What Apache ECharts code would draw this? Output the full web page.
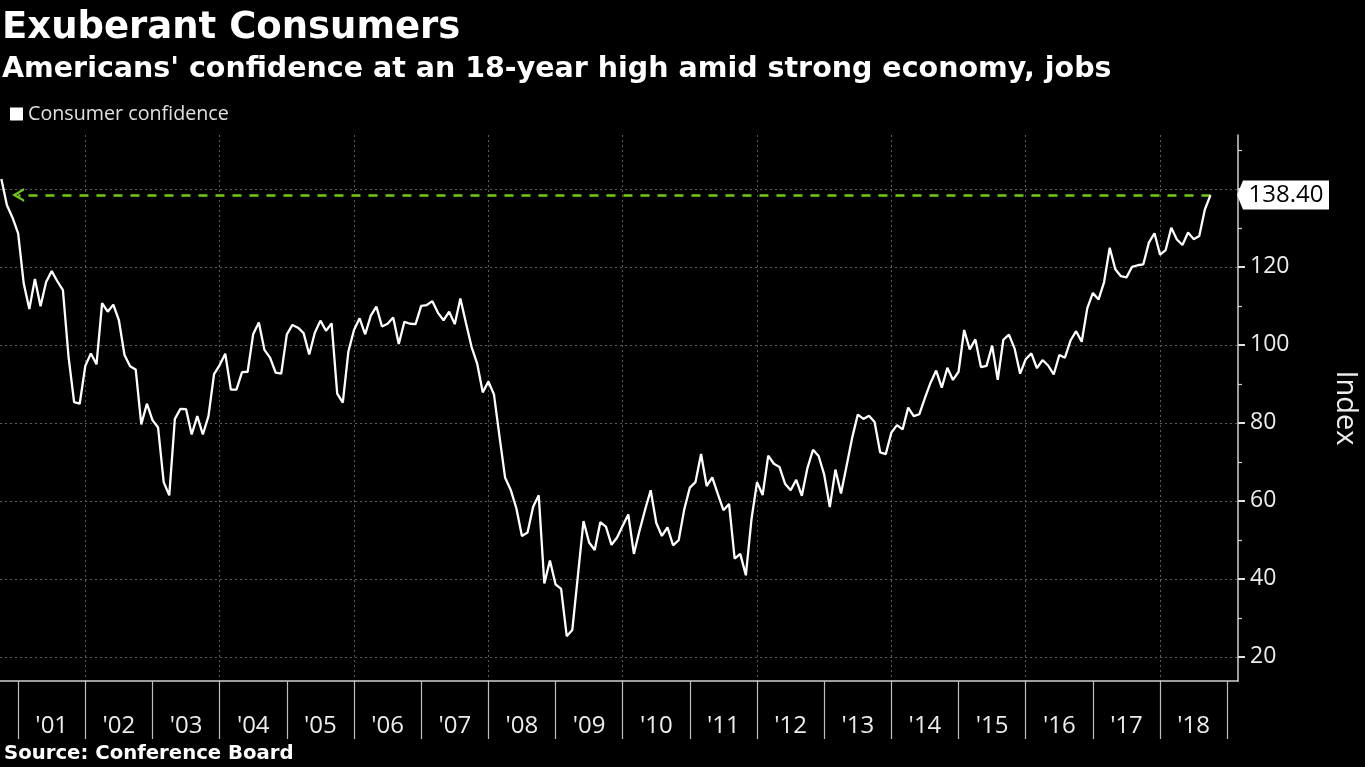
<!DOCTYPE html>
<html>
<head>
<meta charset="utf-8">
<script src="https://cdn.jsdelivr.net/npm/echarts@6/dist/echarts.min.js"></script>
<style>
html,body{margin:0;padding:0;background:#000;}
#chart{width:1365px;height:767px;}
</style>
</head>
<body>
<div id="chart"></div>
<script>
// ---- data ----
const startYear = 2000;
const startMonth = 9; // September 2000, monthly, plotted at month end
const confidence = [
  142.5, 135.8, 132.6, 128.6,
  115.7, 109.2, 116.9, 109.9, 116.1, 118.9, 116.3, 114.0, 97.0, 85.3, 84.9, 94.6,
  97.8, 95.0, 110.7, 108.5, 110.3, 106.3, 97.4, 94.5, 93.7, 79.6, 84.9, 80.7,
  78.8, 64.8, 61.4, 81.0, 83.6, 83.5, 77.0, 81.7, 77.0, 81.7, 92.5, 94.8,
  97.7, 88.5, 88.5, 93.0, 93.1, 102.8, 105.7, 98.7, 96.7, 92.9, 92.6, 102.7,
  105.1, 104.4, 103.0, 97.5, 103.1, 106.2, 103.6, 105.5, 87.5, 85.2, 98.3, 103.8,
  106.8, 102.7, 107.5, 109.8, 104.7, 105.4, 107.0, 100.2, 105.9, 105.4, 105.3, 110.0,
  110.2, 111.2, 108.2, 106.3, 108.5, 105.3, 111.9, 105.6, 99.5, 95.2, 87.8, 90.6,
  87.3, 76.4, 65.9, 62.8, 58.1, 51.0, 51.9, 58.5, 61.4, 38.8, 44.7, 38.6,
  37.4, 25.3, 26.9, 40.8, 54.8, 49.3, 47.4, 54.5, 53.4, 48.7, 50.6, 53.6,
  56.5, 46.4, 52.3, 57.7, 62.7, 54.3, 51.0, 53.2, 48.6, 49.9, 57.8, 63.4,
  64.8, 72.0, 63.8, 66.0, 61.7, 57.6, 59.2, 45.2, 46.4, 40.9, 55.2, 64.8,
  61.5, 71.6, 69.5, 68.7, 64.4, 62.7, 65.4, 61.3, 68.4, 73.1, 71.5, 66.7,
  58.4, 68.0, 61.9, 69.0, 76.2, 82.1, 81.0, 81.8, 80.2, 72.4, 72.0, 77.5,
  79.4, 78.3, 83.9, 81.7, 82.2, 86.4, 90.3, 93.4, 89.0, 94.1, 91.0, 93.1,
  103.8, 98.8, 101.4, 94.3, 94.6, 99.8, 91.0, 101.3, 102.6, 99.1, 92.6, 96.3,
  97.8, 94.0, 96.1, 94.7, 92.4, 97.4, 96.7, 101.1, 103.5, 100.8, 109.4, 113.3,
  111.6, 116.1, 124.9, 119.4, 117.6, 117.3, 120.0, 120.4, 120.6, 126.2, 128.6, 123.1,
  124.3, 130.0, 127.0, 125.6, 128.8, 127.1, 127.9, 134.7, 138.4
];
const yearTicks = [2001,2002,2003,2004,2005,2006,2007,2008,2009,2010,2011,2012,2013,2014,2015,2016,2017,2018,2019];
const yearGrid = [2002,2004,2006,2008,2010,2012,2014,2016,2018];
const yearLabels = ["'01","'02","'03","'04","'05","'06","'07","'08","'09","'10","'11","'12","'13","'14","'15","'16","'17","'18"];
const yLabelValues = [20,40,60,80,100,120];
const yGridValues = [20,40,60,80,100,120,140];
const yMinorValues = [30,50,70,90,110,130,150];
const arrowTargetYear = 2001; // dashed line points back to early 2001

// ---- build ----
const seriesData = confidence.map((v, i) => [startYear + (startMonth + i) / 12, v]);
const last = seriesData[seriesData.length - 1];
const xMin = 2000.73, xMax = 2019.16;
const yMin = 13.8, yMax = 153.8;
const labelCenters = yearLabels.map((s, i) => yearTicks[i] + 0.5);

const chart = echarts.init(document.getElementById('chart'));
const gridColor = '#5c5c5c';
const option = {
  backgroundColor: '#000',
  animation: false,
  title: [
    { text: 'Exuberant Consumers', left: 2, top: 10, padding: 0,
      textStyle: { color: '#fff', fontFamily: 'DejaVu Sans', fontWeight: 'bold', fontSize: 37 } },
    { text: "Americans' confidence at an 18-year high amid strong economy, jobs", left: 2, top: 55, padding: 0,
      textStyle: { color: '#fff', fontFamily: 'DejaVu Sans', fontWeight: 'bold', fontSize: 28.5 } },
    { text: 'Source: Conference Board', left: 4, top: 744, padding: 0,
      textStyle: { color: '#fff', fontFamily: 'DejaVu Sans', fontWeight: 'bold', fontSize: 19.7 } }
  ],
  legend: {
    left: 10, top: 104, padding: 0,
    icon: 'rect', itemWidth: 13, itemHeight: 13, itemGap: 5,
    textStyle: { color: '#e0e0e0', fontFamily: 'Open Sans', fontSize: 19.7 },
    data: ['Consumer confidence']
  },
  grid: { left: 0, right: 127, top: 135, bottom: 86, containLabel: false, outerBoundsMode: 'none' },
  xAxis: [
    {
      type: 'value', min: xMin, max: xMax, position: 'bottom',
      axisLine: { show: true, lineStyle: { color: '#d0d0d0', width: 1.5 } },
      axisTick: { show: true, customValues: yearTicks, length: 58, lineStyle: { color: '#bdbdbd', width: 1.2 } },
      axisLabel: {
        show: true, customValues: labelCenters, margin: 33,
        color: '#ececec', fontFamily: 'Open Sans', fontSize: 24,
        formatter: (v) => yearLabels[labelCenters.findIndex(c => Math.abs(c - v) < 1e-6)]
      },
      splitLine: { show: false }
    },
    {
      type: 'value', min: xMin, max: xMax, position: 'bottom',
      axisLine: { show: false },
      axisTick: { show: false, customValues: yearGrid },
      axisLabel: { show: false },
      splitLine: { show: true, lineStyle: { color: gridColor, type: [2, 3], width: 1 } }
    }
  ],
  yAxis: [
    {
      type: 'value', min: yMin, max: yMax, position: 'right',
      name: 'Index', nameLocation: 'middle', nameRotate: -90, nameGap: 93,
      nameTextStyle: { color: '#ececec', fontFamily: 'Open Sans', fontSize: 29 },
      axisLine: { show: true, lineStyle: { color: '#d0d0d0', width: 1.5 } },
      axisTick: { show: true, customValues: yGridValues, length: 7, lineStyle: { color: '#e0e0e0', width: 2 } },
      axisLabel: { show: true, customValues: yLabelValues, margin: 12, color: '#ececec', fontFamily: 'Open Sans', fontSize: 23 },
      splitLine: { show: true, lineStyle: { color: gridColor, type: [2, 3], width: 1 } }
    },
    {
      type: 'value', min: yMin, max: yMax, position: 'right',
      axisLine: { show: false },
      axisTick: { show: true, customValues: yMinorValues, length: 4, lineStyle: { color: '#d0d0d0', width: 1.2 } },
      axisLabel: { show: false },
      splitLine: { show: false }
    }
  ],
  series: [
    {
      name: 'Consumer confidence', type: 'line', xAxisIndex: 0, yAxisIndex: 0,
      data: seriesData, showSymbol: false, symbol: 'none', clip: false,
      itemStyle: { color: '#ffffff' },
      lineStyle: { color: '#ffffff', width: 2.3 },
      z: 5,
      markLine: {
        silent: true, animation: false,
        symbol: ['none', 'path://M0,10 L5,0 L10,10 L8.2,10 L5,3.6 L1.8,10 Z'],
        symbolSize: [14, 12],
        label: { show: false },
        lineStyle: { color: '#74cc12', width: 2.6, type: [9, 8] },
        data: [[{ coord: [last[0], last[1]] }, { coord: [arrowTargetYear, last[1]] }]]
      },
      markPoint: {
        silent: true, animation: false,
        symbol: 'path://M0,14.5 L6,0 L92,0 L92,29 L6,29 Z',
        symbolSize: [92, 29],
        symbolOffset: [45, 0],
        itemStyle: { color: '#ffffff' },
        label: {
          show: true, position: 'inside', offset: [3, 0],
          color: '#000', fontFamily: 'Open Sans', fontSize: 24,
          formatter: (p) => p.value.toFixed(2)
        },
        data: [{ coord: [xMax, last[1]], value: last[1] }]
      }
    }
  ]
};
chart.setOption(option);
</script>
</body>
</html>
